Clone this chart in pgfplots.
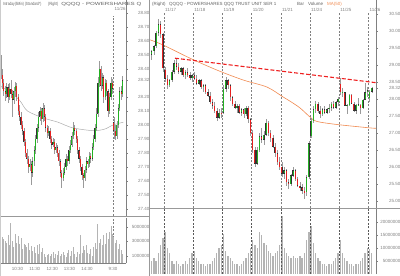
\documentclass[border=0pt]{standalone}
\usepackage{fontspec}
\setmainfont{Liberation Sans}
\usepackage{pgfplots}
\usepackage{pgfplotstable}
\pgfplotsset{compat=1.18}
\definecolor{upc}{HTML}{22B022}
\definecolor{dnc}{HTML}{E52020}
\definecolor{wick}{HTML}{9A9A9A}
\definecolor{lblc}{HTML}{808080}
\definecolor{titc}{HTML}{606060}
\definecolor{volc}{HTML}{B4B4B4}
\definecolor{mac}{HTML}{F08A50}
\definecolor{trend}{HTML}{EE2020}
\definecolor{sepc}{HTML}{999999}
\newcommand\lbl{\fontsize{4.5}{5}\selectfont}
\tikzset{daysep/.style={lblc, line width=0.4bp, dash pattern=on 2bp off 1.5bp}}

\pgfplotstableread{
i o h l c v
0 28.44 28.50 28.33 28.36 4.1
1 28.36 28.40 28.26 28.30 3.6
2 28.30 28.33 28.21 28.24 3.3
3 28.24 28.28 28.17 28.22 3.0
4 28.22 28.30 28.19 28.27 2.8
5 28.27 28.29 28.16 28.20 3.9
6 28.20 28.30 28.18 28.26 2.5
7 28.26 28.32 28.19 28.22 5.6
8 28.22 28.25 28.06 28.18 3.0
9 28.18 28.27 28.15 28.24 2.2
10 28.24 28.31 28.20 28.28 4.0
11 28.28 28.30 28.17 28.20 2.8
12 28.20 28.22 28.07 28.10 3.8
13 28.10 28.14 28.03 28.06 2.6
14 28.06 28.09 27.97 28.00 3.5
15 28.00 28.03 27.93 27.96 2.0
16 27.96 27.98 27.85 27.88 2.7
17 27.88 27.90 27.77 27.80 2.5
18 27.80 27.83 27.72 27.76 2.2
19 27.76 27.78 27.66 27.70 2.8
20 27.70 27.76 27.67 27.72 1.8
21 27.72 27.74 27.57 27.66 2.4
22 27.66 27.77 27.63 27.74 1.6
23 27.74 27.85 27.71 27.82 2.2
24 27.82 27.93 27.79 27.90 1.4
25 27.90 28.01 27.87 27.98 2.5
26 27.98 28.09 27.95 28.06 1.2
27 28.06 28.13 28.03 28.10 2.6
28 28.10 28.12 28.00 28.04 1.5
29 28.04 28.16 28.02 28.12 2.1
30 28.12 28.14 28.03 28.06 1.2
31 28.06 28.08 27.95 27.98 0.8
32 27.98 28.00 27.91 27.94 1.1
33 27.94 27.99 27.92 27.96 1.3
34 27.96 27.98 27.87 27.90 1.0
35 27.90 27.92 27.83 27.86 1.2
36 27.86 27.91 27.84 27.88 1.5
37 27.88 27.90 27.79 27.82 0.7
38 27.82 27.87 27.80 27.84 1.3
39 27.84 27.86 27.77 27.80 1.1
40 27.80 27.82 27.71 27.74 1.6
41 27.74 27.76 27.63 27.66 1.0
42 27.66 27.68 27.55 27.62 1.2
43 27.62 27.69 27.60 27.66 1.5
44 27.66 27.73 27.64 27.70 1.1
45 27.70 27.79 27.68 27.76 0.9
46 27.76 27.78 27.71 27.74 1.4
47 27.74 27.85 27.72 27.82 1.8
48 27.82 27.89 27.80 27.86 1.0
49 27.86 27.95 27.84 27.92 1.7
50 27.92 28.02 27.90 27.98 2.2
51 27.98 28.00 27.93 27.96 1.3
52 27.96 27.97 27.87 27.90 0.9
53 27.90 27.92 27.79 27.82 1.5
54 27.82 27.84 27.73 27.76 1.2
55 27.76 27.78 27.67 27.70 3.9
56 27.70 27.72 27.61 27.64 1.4
57 27.64 27.66 27.55 27.62 2.3
58 27.62 27.71 27.60 27.68 1.8
59 27.68 27.77 27.66 27.74 2.5
60 27.74 27.76 27.69 27.72 1.4
61 27.72 27.81 27.70 27.78 1.2
62 27.78 27.80 27.73 27.76 1.9
63 27.76 27.87 27.74 27.84 1.0
64 27.84 27.93 27.82 27.90 2.2
65 27.90 28.01 27.88 27.98 2.8
66 27.98 28.12 27.96 28.08 2.0
67 28.08 28.34 28.06 28.30 5.4
68 28.30 28.46 28.27 28.40 2.8
69 28.40 28.42 28.24 28.28 3.4
70 28.28 28.37 28.26 28.34 2.5
71 28.34 28.36 28.16 28.20 3.9
72 28.20 28.33 28.18 28.30 2.6
73 28.30 28.32 28.21 28.24 4.2
74 28.24 28.26 28.06 28.10 3.4
75 28.10 28.23 28.08 28.20 4.3
76 28.20 28.34 28.18 28.30 5.2
77 28.30 28.33 28.22 28.26 4.0
78 28.02 28.06 27.90 27.96 3.6
79 27.96 28.00 27.89 27.92 2.8
80 27.92 28.03 27.90 28.00 3.2
81 28.00 28.15 27.98 28.12 2.0
82 28.12 28.27 28.10 28.24 2.6
83 28.24 28.28 28.18 28.22 1.8
84 28.22 28.35 28.20 28.32 1.2
}\leftdata

\pgfplotstableread{
x o h l c v
-5.5 29.30 29.45 29.15 29.40 5
-4.5 29.40 29.60 29.30 29.55 6
-3.5 29.55 30.00 29.50 29.95 5
-2.5 29.95 30.35 29.85 30.20 8
-1.5 30.20 30.28 29.80 29.90 11
-0.5 29.90 29.95 28.80 28.90 14
0.5 28.85 28.95 28.50 28.60 16
1.5 28.60 28.70 28.30 28.40 10
2.5 28.40 28.60 28.35 28.55 8
3.5 28.55 28.85 28.50 28.80 5
4.5 28.80 29.15 28.75 29.05 4
5.5 29.05 29.18 28.85 28.95 5
6.5 28.95 29.05 28.75 28.80 4
7.5 28.80 28.95 28.70 28.90 3
8.5 28.90 28.95 28.65 28.70 4
9.5 28.70 28.85 28.60 28.78 5
10.5 28.78 28.90 28.65 28.70 4
11.5 28.70 28.80 28.55 28.62 6
12.5 28.62 28.75 28.50 28.70 8
13.5 28.70 28.80 28.55 28.60 9
14.5 28.60 28.70 28.40 28.45 6
15.5 28.45 28.60 28.40 28.55 5
16.5 28.55 28.60 28.30 28.35 4
17.5 28.35 28.45 28.20 28.40 4
18.5 28.40 28.45 28.15 28.20 3
19.5 28.20 28.30 28.05 28.10 4
20.5 28.10 28.20 27.85 27.90 4
21.5 27.90 28.00 27.70 27.80 5
22.5 27.80 27.90 27.60 27.65 6
23.5 27.65 27.75 27.35 27.45 8
24.5 27.45 27.70 27.40 27.60 10
25.5 27.60 27.75 27.45 27.55 11
26.5 27.60 28.40 27.55 28.30 15.5
27.5 28.30 28.65 28.20 28.55 9
28.5 28.55 28.60 28.30 28.40 7
29.5 28.40 28.45 27.95 28.05 6
30.5 28.05 28.10 27.80 27.85 5
31.5 27.85 27.95 27.70 27.75 4
32.5 27.75 27.85 27.60 27.80 4
33.5 27.80 27.85 27.55 27.60 3
34.5 27.60 27.75 27.50 27.70 4
35.5 27.70 27.75 27.45 27.55 5
36.5 27.55 27.80 27.50 27.75 6
37.5 27.75 27.80 27.30 27.40 8
38.5 27.40 27.45 26.90 27.00 10
39.5 27.00 27.10 26.40 26.50 13
40.5 26.50 26.60 26.00 26.10 11
41.5 26.10 26.60 26.05 26.50 10
42.5 26.50 27.00 26.45 26.90 16
43.5 26.90 27.15 26.70 26.80 15
44.5 26.80 27.05 26.65 26.95 12
45.5 26.95 27.40 26.90 27.30 11
46.5 27.30 27.35 26.90 27.00 9
47.5 27.00 27.10 26.75 26.85 8
48.5 26.85 26.95 26.55 26.60 7
49.5 26.60 26.70 26.30 26.40 8
50.5 26.40 26.50 26.05 26.15 9
51.5 26.15 26.30 25.90 26.00 11
52.5 26.00 26.15 25.70 25.80 22.5
53.5 25.80 26.00 25.65 25.90 10
54.5 25.90 25.95 25.45 25.55 8
55.5 25.55 25.65 25.35 25.50 7
56.5 25.50 25.80 25.45 25.75 6
57.5 25.75 26.00 25.70 25.90 7
58.5 25.90 25.95 25.60 25.65 6
59.5 25.65 25.70 25.40 25.45 6
60.5 25.45 25.55 25.30 25.40 7
61.5 25.40 25.50 25.20 25.30 6
62.5 25.30 25.40 25.05 25.25 8
63.5 25.25 25.75 25.15 25.70 13
64.5 25.70 26.75 25.65 26.70 16
65.5 26.90 27.45 26.85 27.35 18.5
66.5 27.35 27.80 27.30 27.70 12
67.5 27.70 27.95 27.60 27.85 8
68.5 27.85 27.90 27.60 27.65 6
69.5 27.65 27.80 27.45 27.55 5
70.5 27.55 27.75 27.50 27.70 4
71.5 27.70 27.80 27.55 27.60 4
72.5 27.60 27.75 27.55 27.70 3
73.5 27.70 27.85 27.60 27.75 4
74.5 27.75 27.90 27.65 27.85 4
75.5 27.85 27.95 27.70 27.75 5
76.5 27.75 27.95 27.70 27.90 6
77.5 27.90 28.05 27.80 28.00 8
78.5 28.44 28.62 28.13 28.20 13
79.5 28.20 28.33 28.06 28.20 8
80.5 28.20 28.22 27.78 27.80 6
81.5 27.80 27.84 27.57 27.82 5
82.5 27.82 28.16 27.80 28.12 4
83.5 28.12 28.14 27.84 27.86 4
84.5 27.86 27.90 27.63 27.66 3
85.5 27.66 27.84 27.55 27.82 4
86.5 27.82 28.02 27.80 27.82 4
87.5 27.82 27.84 27.55 27.74 5
88.5 27.74 28.00 27.70 27.98 6
89.5 27.98 28.46 27.96 28.20 8
90.5 28.20 28.34 28.06 28.26 10
91.5 28.02 28.26 27.90 28.22 9.6
92.5 28.22 28.35 28.18 28.32 8
}\rightdata

\pgfplotsset{
  candlebase/.style={draw=none, mark=none, forget plot,
    error bars/y dir=both, error bars/y explicit, error bars/error mark=none},
  panel/.style={scale only axis, anchor=south west,
    axis y line*=right,
    y axis line style={lblc, line width=0.6bp},
    ytick style={lblc, line width=0.4bp},
    tick align=outside, major tick length=1.5bp,
    yticklabel style={font=\lbl, text=lblc, anchor=east, inner sep=0pt},
    clip=true},
}

\begin{document}
\begin{tikzpicture}
\useasboundingbox (0bp,0bp) rectangle (400bp,276bp);

% ---------- LEFT PRICE ----------
\begin{axis}[panel, axis x line=none, at={(0bp,60bp)}, width=126bp, height=216bp,
  xmin=0, xmax=86.9, ymin=27.35, ymax=28.893,
  ytick={27.4,27.5,27.6,27.7,27.8,27.9,28.0,28.1,28.2,28.32,28.4,28.5,28.6,28.7,28.8},
  yticklabels={27.40,27.50,27.60,27.70,27.80,27.90,28.00,28.10,28.20,28.32,28.40,28.50,28.60,28.70,28.80},
  yticklabel style={xshift=22bp}]
\draw[daysep] (axis cs:78,27.35) -- (axis cs:78,28.78);
\addplot[color=gray!65, line width=0.5bp, smooth, forget plot] coordinates {
 (0,28.28) (9,28.22) (14,28.17) (19,28.10) (30,28.05) (40,28.02) (50,27.98) (64,27.96) (72,27.97) (78,28.00) (85,28.02)};
\addplot[candlebase, error bars/error bar style={draw=wick, line width=0.4bp}]
 table[x expr=\thisrow{i}+0.5, y expr=(\thisrow{h}+\thisrow{l})/2, y error expr=(\thisrow{h}-\thisrow{l})/2]{\leftdata};
\addplot[candlebase, restrict expr to domain={\thisrow{c}-\thisrow{o}}{0:10},
  error bars/error bar style={draw=black!80, line width=1.1bp}]
 table[x expr=\thisrow{i}+0.5, y expr=(\thisrow{o}+\thisrow{c})/2, y error expr={max(abs(\thisrow{c}-\thisrow{o})/2,0.005)}]{\leftdata};
\addplot[candlebase, restrict expr to domain={\thisrow{c}-\thisrow{o}}{0:10},
  error bars/error bar style={draw=upc, line width=0.7bp}]
 table[x expr=\thisrow{i}+0.5, y expr=(\thisrow{o}+\thisrow{c})/2, y error expr={max(abs(\thisrow{c}-\thisrow{o})/2-0.003,0.002)}]{\leftdata};
\addplot[candlebase, restrict expr to domain={\thisrow{c}-\thisrow{o}}{-10:-0.0001},
  error bars/error bar style={draw=black!80, line width=1.1bp}]
 table[x expr=\thisrow{i}+0.5, y expr=(\thisrow{o}+\thisrow{c})/2, y error expr={max(abs(\thisrow{c}-\thisrow{o})/2,0.005)}]{\leftdata};
\addplot[candlebase, restrict expr to domain={\thisrow{c}-\thisrow{o}}{-10:-0.0001},
  error bars/error bar style={draw=dnc, line width=0.7bp}]
 table[x expr=\thisrow{i}+0.5, y expr=(\thisrow{o}+\thisrow{c})/2, y error expr={max(abs(\thisrow{c}-\thisrow{o})/2-0.003,0.002)}]{\leftdata};
\end{axis}

% ---------- LEFT VOLUME ----------
\begin{axis}[panel, at={(0bp,13bp)}, width=126bp, height=45bp,
  xmin=0, xmax=86.9, ymin=0, ymax=6.25,
  axis x line*=bottom, x axis line style={-, lblc, line width=0.6bp},
  xtick style={lblc, line width=0.4bp},
  xtick={12,24,36,48,60,78}, xticklabels={10:30,11:30,12:30,13:30,14:30,9:30},
  xticklabel style={font=\lbl, text=lblc, inner sep=0pt, yshift=-3bp},
  ytick={1,3,5}, yticklabels={1000000,3000000,5000000},
  yticklabel style={xshift=22bp}]
\draw[daysep] (axis cs:78,0) -- (axis cs:78,6.25);
\addplot[ycomb, draw=volc, line width=0.75bp, forget plot]
 table[x expr=\thisrow{i}+0.5, y=v]{\leftdata};
\end{axis}

% ---------- RIGHT PRICE ----------
\begin{axis}[panel, axis x line=none, at={(150bp,68bp)}, width=226bp, height=208bp,
  xmin=-6.233, xmax=94.39, ymin=24.794, ymax=30.912,
  ytick={25,25.5,26,26.5,27,27.5,28,28.32,28.5,29,29.5,30,30.5},
  yticklabels={25.00,25.50,26.00,26.50,27.00,27.50,28.00,28.32,28.50,29.00,29.50,30.00,30.50},
  yticklabel style={xshift=23bp}]
\foreach \d in {0,13,26,39,52,65,78,91}{
  \edef\tmp{\noexpand\draw[daysep] (axis cs:\d,24.794) -- (axis cs:\d,30.55);}\tmp }
\addplot[color=mac, line width=0.6bp, smooth, forget plot] coordinates {
 (-6.2,29.74) (-0.45,29.59) (11.6,29.20) (23.6,28.85) (35.2,28.56) (45.9,28.35) (53,28.06) (56,27.94) (60.5,27.74) (65,27.47) (68.1,27.34) (77,27.25) (91.7,27.15) (94.3,27.14)};
\addplot[candlebase, error bars/error bar style={draw=wick, line width=0.45bp}]
 table[x=x, y expr=(\thisrow{h}+\thisrow{l})/2, y error expr=(\thisrow{h}-\thisrow{l})/2]{\rightdata};
\addplot[candlebase, restrict expr to domain={\thisrow{c}-\thisrow{o}}{0:10},
  error bars/error bar style={draw=black!80, line width=1.5bp}]
 table[x=x, y expr=(\thisrow{o}+\thisrow{c})/2, y error expr={max(abs(\thisrow{c}-\thisrow{o})/2,0.02)}]{\rightdata};
\addplot[candlebase, restrict expr to domain={\thisrow{c}-\thisrow{o}}{0:10},
  error bars/error bar style={draw=upc, line width=1.0bp}]
 table[x=x, y expr=(\thisrow{o}+\thisrow{c})/2, y error expr={max(abs(\thisrow{c}-\thisrow{o})/2-0.01,0.01)}]{\rightdata};
\addplot[candlebase, restrict expr to domain={\thisrow{c}-\thisrow{o}}{-10:-0.0001},
  error bars/error bar style={draw=black!80, line width=1.5bp}]
 table[x=x, y expr=(\thisrow{o}+\thisrow{c})/2, y error expr={max(abs(\thisrow{c}-\thisrow{o})/2,0.02)}]{\rightdata};
\addplot[candlebase, restrict expr to domain={\thisrow{c}-\thisrow{o}}{-10:-0.0001},
  error bars/error bar style={draw=dnc, line width=1.0bp}]
 table[x=x, y expr=(\thisrow{o}+\thisrow{c})/2, y error expr={max(abs(\thisrow{c}-\thisrow{o})/2-0.01,0.01)}]{\rightdata};
\addplot[trend, line width=1.1bp, dash pattern=on 4bp off 2bp, forget plot]
 coordinates {(4.9,29.20) (94.4,28.48)};
\end{axis}

% ---------- RIGHT VOLUME ----------
\begin{axis}[panel, axis x line=none, at={(150bp,2bp)}, width=226bp, height=65bp,
  xmin=-6.233, xmax=94.39, ymin=0, ymax=25,
  ytick={5,10,15,20}, yticklabels={5000000,10000000,15000000,20000000},
  yticklabel style={xshift=23bp}]
\addplot[ycomb, draw=volc, line width=1.3bp, forget plot]
 table[x=x, y=v]{\rightdata};
\foreach \d in {0,13,26,39,52,65,78,91}{
  \edef\tmp{\noexpand\draw[daysep, black!65] (axis cs:\d,0) -- (axis cs:\d,25);}\tmp }
\end{axis}

% ---------- frame, separators, titles ----------
\begin{scope}[x=1bp, y=1bp]
\draw[sepc, line width=0.8bp] (149.5,0) -- (149.5,276);
\draw[sepc, line width=0.9bp] (0,59.5) -- (149,59.5);
\draw[sepc, line width=0.9bp] (150,67.5) -- (400,67.5);
\draw[gray!40, line width=0.5bp] (0.25,0) -- (0.25,276);
\node[font=\lbl, text=titc, anchor=west, inner sep=0pt, xscale=0.72, transform shape] at (3,272) {Intraday(5Min) (Standard*)};
\node[font=\lbl, text=titc, anchor=west, inner sep=0pt, xscale=0.75, transform shape] at (48,272) {(Right)};
\node[font=\lbl, text=titc, anchor=west, inner sep=0pt, xscale=1.38, transform shape] at (61,272) {QQQQ - POWERSHARES Q};
\node[font=\lbl, text=titc, anchor=west, inner sep=0pt] at (152,272) {(Right)};
\node[font=\lbl, text=titc, anchor=west, inner sep=0pt] at (169,272) {QQQQ - POWERSHARES QQQ TRUST UNIT SER 1};
\node[font=\lbl, text=titc, anchor=west, inner sep=0pt] at (297,272) {Bar};
\node[font=\lbl, text=titc, anchor=west, inner sep=0pt] at (308,272) {Volume};
\node[font=\lbl, text=mac, anchor=west, inner sep=0pt] at (327,272) {MA(50)};
\node[font=\lbl, text=lblc, anchor=west, inner sep=0pt] at (114.5,267.5) {11/26};
\foreach \xx/\tt in {165/{11/17}, 194.2/{11/18}, 223.4/{11/19}, 252.6/{11/20}, 281.8/{11/21}, 311/{11/24}, 340.2/{11/25}, 369.4/{11/26}}
  \node[font=\lbl, text=lblc, anchor=west, inner sep=0pt] at (\xx,266) {\tt};
\end{scope}
\end{tikzpicture}
\end{document}
